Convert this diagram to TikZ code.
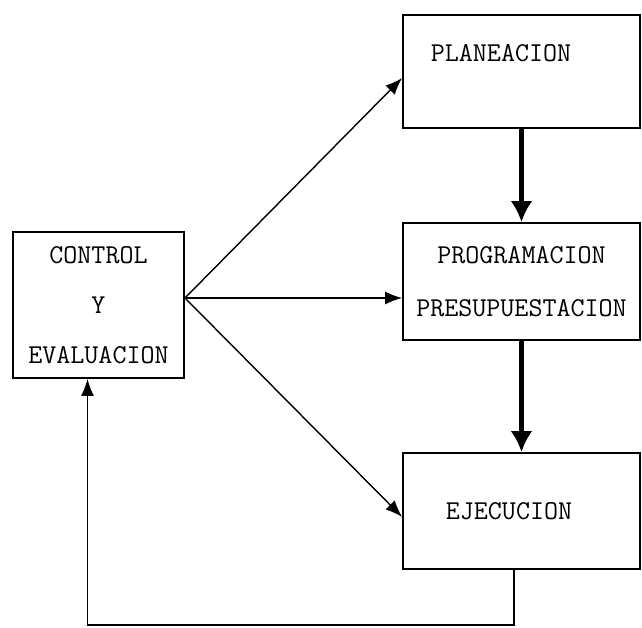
\documentclass[tikz,border=0pt]{standalone}
\usepackage{fontspec}
\usepackage{tikz}
\usetikzlibrary{arrows.meta}

\begin{document}
\begin{tikzpicture}[
  etapa/.style={draw, rectangle, line width=1pt, minimum width=4.74cm, inner sep=0pt, align=center},
  texto/.style={font=\ttfamily\fontsize{15.5}{17}\selectfont},
  flujo/.style={-{Latex[length=3.4mm,width=2.6mm]}, line width=0.8pt},
  grueso/.style={-{Latex[length=4.2mm,width=4.4mm]}, line width=2.8pt}]
\useasboundingbox (0,0) rectangle (12.84,12.56);

\node[etapa, minimum height=2.26cm] (plan) at (10.43,11.13) {};
\node[texto] (plantxt) at (10.02,11.50) {PLANEACION};
\node[etapa, texto, minimum height=2.34cm] (prog) at (10.43,6.93) {PROGRAMACION\\[0.45cm]PRESUPUESTACION};
\node[etapa, texto, minimum height=2.32cm] (ejec) at (10.43,2.34) {\hspace*{-0.5cm}EJECUCION};
\node[etapa, texto, minimum width=3.42cm, minimum height=2.92cm] (ctrl) at (1.97,6.46) {CONTROL\\[0.4cm]Y\\[0.4cm]EVALUACION};

\coordinate (fan) at (3.70,6.60);
\coordinate (fbr) at (10.28,0.06);
\coordinate (fbl) at (1.75,0.06);

\draw[flujo] (fan) -- (plan.west |- 0,11.0);
\draw[flujo] (fan) -- (prog.west |- fan);
\draw[flujo] (fan) -- (ejec.west |- 0,2.22);

\draw[grueso] (plan.south) -- (prog.north);
\draw[grueso] (prog.south) -- (ejec.north);

\draw[flujo] (ejec.south -| fbr) -- (fbr) -- (fbl) -- (fbl |- ctrl.south);
\end{tikzpicture}
\end{document}
